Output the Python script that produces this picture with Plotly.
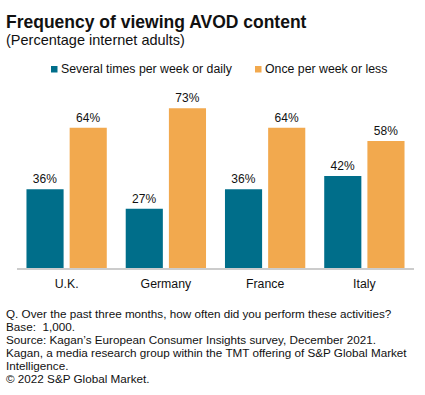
import plotly.graph_objects as go

categories = ["U.K.", "Germany", "France", "Italy"]
several_times = [36, 27, 36, 42]
once_or_less = [64, 73, 64, 58]
series_names = ["Several times per week or daily", "Once per week or less"]
footnotes = [
    "Q. Over the past three months, how often did you perform these activities?",
    "Base:  1,000.",
    "Source: Kagan\u2019s European Consumer Insights survey, December 2021.",
    "Kagan, a media research group within the TMT offering of S&P Global Market",
    "Intelligence.",
    "\u00a9 2022 S&P Global Market.",
]

FONT = "Liberation Sans"
TEAL = "#006E8A"
ORANGE = "#F2A94E"
TXT = "#111111"

W, H = 425, 395
ML, MR, MT, MB = 17, W - 414, 90, H - 268
PW = W - ML - MR
PH = H - MT - MB


def px(x_pix):
    return (x_pix - ML) / PW


def py(y_pix):
    return (H - MB - y_pix) / PH


fig = go.Figure()
for name, vals, col in [(series_names[0], several_times, TEAL), (series_names[1], once_or_less, ORANGE)]:
    fig.add_trace(go.Bar(
        x=categories, y=vals, name=name, marker=dict(color=col, line=dict(width=0)),
        text=[f"{v}%" for v in vals], textposition="outside",
        textfont=dict(family=FONT, size=12, color=TXT), cliponaxis=False,
        showlegend=False,
    ))

annotations = [
    dict(text="<b>Frequency of viewing AVOD content</b>", x=px(4), xanchor="left",
         y=py(22), yanchor="middle", xref="paper", yref="paper", showarrow=False,
         font=dict(family=FONT, size=17.5, color=TXT)),
    dict(text="(Percentage internet adults)", x=px(4), xanchor="left",
         y=py(40), yanchor="middle", xref="paper", yref="paper", showarrow=False,
         font=dict(family=FONT, size=14.5, color=TXT)),
]
for i, line in enumerate(footnotes):
    annotations.append(dict(text=line, x=px(4), xanchor="left",
                            y=py(313 + 13 * i), yanchor="middle", xref="paper", yref="paper",
                            showarrow=False, font=dict(family=FONT, size=11.7, color=TXT)))

# legend (manual)
shapes = []
legend_pos = [(51, 60), (255, 264)]
for (sx, tx), name, col in zip(legend_pos, series_names, [TEAL, ORANGE]):
    shapes.append(dict(type="rect", xref="paper", yref="paper",
                       x0=px(sx), x1=px(sx + 6.5), y0=py(72.5), y1=py(66),
                       fillcolor=col, line=dict(width=0)))
    annotations.append(dict(text=name, x=px(tx - 1), xanchor="left", y=py(69), yanchor="middle",
                            xref="paper", yref="paper", showarrow=False,
                            font=dict(family=FONT, size=12.3, color=TXT)))

fig.update_layout(
    width=W, height=H, margin=dict(l=ML, r=MR, t=MT, b=MB),
    paper_bgcolor="white", plot_bgcolor="white",
    barmode="group", bargap=0.13, bargroupgap=0.14,
    showlegend=False,
    xaxis=dict(showline=True, linecolor="#cccccc", linewidth=2, ticks="",
               ticklabelstandoff=3,
               tickfont=dict(family=FONT, size=12.3, color=TXT), showgrid=False),
    yaxis=dict(range=[0, PH / 2.19], visible=False, showgrid=False),
    annotations=annotations,
    shapes=shapes,
)
fig.write_html("out.html", config={"displayModeBar": False},
               post_script="document.body.style.margin='0px';")
